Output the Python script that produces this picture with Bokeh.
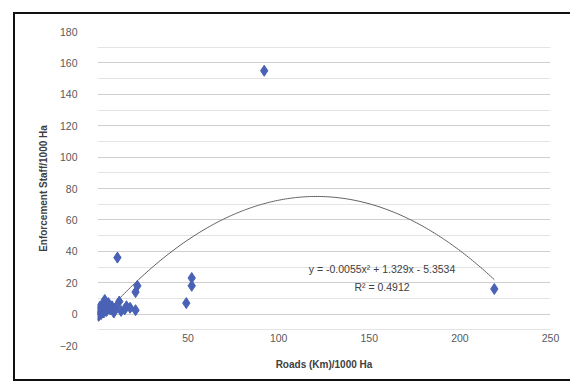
from bokeh.plotting import figure
from bokeh.models import Label, FixedTicker
from bokeh.embed import file_html
from bokeh.resources import INLINE
import numpy as np

# Data
roads = [0.5, 1, 1.5, 2, 2.5, 3, 3.5, 4, 4.5, 5, 6, 7, 8, 9, 10, 12, 13, 15, 16, 18, 21,
         11, 21, 22, 49, 52, 52, 92, 219]
staff = [-1, 2, 5, 0, 3, 6, 1, 9, 4, 2, 7, 3, 5, 1, 4, 8, 2, 3, 5, 4, 2.5,
         36, 14, 18, 7, 18, 23, 155, 16]

trend_coef = [-0.0055, 1.329, -5.3534]
trend_label = "y = -0.0055x\u00b2 + 1.329x - 5.3534"
r2_label = "R\u00b2 = 0.4912"
x_title = "Roads (Km)/1000 Ha"
y_title = "Enforcement Staff/1000 Ha"
x_ticks = [50, 100, 150, 200, 250]
y_ticks = [-20, 0, 20, 40, 60, 80, 100, 120, 140, 160, 180]
y_minor = [-10, 10, 30, 50, 70, 90, 110, 130, 150, 170]

FONT = "Liberation Sans"

p = figure(width=557, height=369, output_backend="svg", toolbar_location=None,
           x_range=(0, 250), y_range=(-20, 180),
           min_border_left=82, min_border_right=22, min_border_top=17, min_border_bottom=38)
p.margin = (12, 0, 0, 13)
p.styles = {"border-left": "2px solid #111", "border-top": "2px solid #111",
            "border-bottom": "2px solid #111", "border-right": "none",
            "box-sizing": "border-box"}
p.outline_line_color = None
p.background_fill_color = "white"
p.border_fill_color = "white"

yt = FixedTicker(ticks=y_ticks, minor_ticks=y_minor)
p.yaxis.ticker = yt
p.ygrid.ticker = yt
p.xaxis.ticker = FixedTicker(ticks=x_ticks)
p.xgrid.grid_line_color = None
p.ygrid.grid_line_color = "#cfcfcf"
p.ygrid.minor_grid_line_color = "#e4e4e4"

for ax in (p.xaxis, p.yaxis):
    ax.axis_line_color = None
    ax.major_tick_line_color = None
    ax.minor_tick_line_color = None
    ax.major_label_text_font = FONT
    ax.major_label_text_font_size = "10.5px"
    ax.major_label_text_color = "#595959"
    ax.axis_label_text_font = FONT
    ax.axis_label_text_font_size = "10px"
    ax.axis_label_text_font_style = "bold"
    ax.axis_label_text_color = "#404040"

p.xaxis.axis_label = x_title
p.yaxis.axis_label = y_title
p.xaxis.major_label_standoff = -18
p.xaxis.axis_label_standoff = 14
p.yaxis.major_label_standoff = 14
p.yaxis.axis_label_standoff = 8

# trendline from displayed coefficients
xs = np.linspace(min(roads), max(roads), 200)
ys = np.polyval(trend_coef, xs)
p.line(xs, ys, line_color="#606060", line_width=1)

p.scatter(roads, staff, marker="diamond", size=11, fill_color="#4a62b5",
          line_color="#4a62b5")

p.add_layout(Label(x=157, y=29, text=trend_label, text_align="center", text_baseline="middle",
                   text_font=FONT, text_font_size="10.5px", text_color="#404040"))
p.add_layout(Label(x=157, y=17, text=r2_label, text_align="center", text_baseline="middle",
                   text_font=FONT, text_font_size="10.5px", text_color="#404040"))

open("out.html", "w").write(file_html(p, INLINE))
